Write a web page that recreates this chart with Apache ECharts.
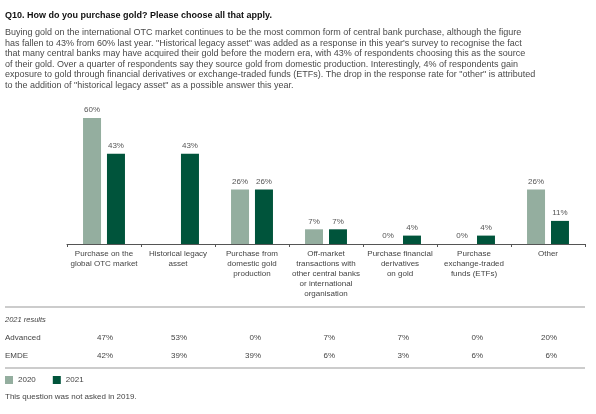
<!DOCTYPE html>
<html>
<head>
<meta charset="utf-8">
<script src="https://cdn.jsdelivr.net/npm/echarts@6/dist/echarts.min.js"></script>
<style>
  html, body { margin: 0; padding: 0; background: #fff; }
  #main { width: 596px; height: 414px; }
</style>
</head>
<body>
<div id="main"></div>
<script>
// chart data
var categories = [
    'Purchase on the\nglobal OTC market',
    'Historical legacy\nasset',
    'Purchase from\ndomestic gold\nproduction',
    'Off-market\ntransactions with\nother central banks\nor international\norganisation',
    'Purchase financial\nderivatives\non gold',
    'Purchase\nexchange-traded\nfunds (ETFs)',
    'Other'
];
var years = ['2020', '2021'];
var values2020 = [60, null, 26, 7, 0, 0, 26];
var values2021 = [43, 43, 26, 7, 4, 4, 11];
var advanced2021 = [47, 53, 0, 7, 7, 0, 20];
var emde2021 = [42, 39, 39, 6, 3, 6, 6];

var titleText = 'Q10. How do you purchase gold? Please choose all that apply.';
var bodyLines = [
    'Buying gold on the international OTC market continues to be the most common form of central bank purchase, although the figure',
    'has fallen to 43% from 60% last year. "Historical legacy asset" was added as a response in this year\'s survey to recognise the fact',
    'that many central banks may have acquired their gold before the modern era, with 43% of respondents choosing this as the source',
    'of their gold. Over a quarter of respondents say they source gold from domestic production. Interestingly, 4% of respondents gain',
    'exposure to gold through financial derivatives or exchange-traded funds (ETFs). The drop in the response rate for "other" is attributed',
    'to the addition of "historical legacy asset" as a possible answer this year.'
];
var noteText = 'This question was not asked in 2019.';

var FONT = '"Liberation Sans", Arial, sans-serif';
var green = '#00543b';
var sage = '#94ae9f';

var dom = document.getElementById('main');
var myChart = echarts.init(dom);

var barLabel = {
    show: true,
    position: 'top',
    distance: 4,
    fontSize: 8,
    color: '#555',
    fontFamily: FONT,
    formatter: function (p) { return p.value + '%'; }
};

var option = {
    animation: false,
    textStyle: { fontFamily: FONT },
    grid: { left: 67, right: 11, top: 118, bottom: 170 },
    legend: {
        data: years,
        left: 5,
        top: 376,
        padding: 0,
        icon: 'rect',
        itemWidth: 8,
        itemHeight: 8,
        itemGap: 17,
        textStyle: { fontSize: 8, color: '#444', fontFamily: FONT }
    },
    xAxis: {
        type: 'category',
        data: categories,
        axisLine: { lineStyle: { color: '#555', width: 1 } },
        axisTick: { show: true, length: 3, lineStyle: { color: '#555' } },
        axisLabel: {
            interval: 0,
            margin: 5,
            fontSize: 8,
            lineHeight: 10,
            color: '#444',
            fontFamily: FONT,
            align: 'center'
        }
    },
    yAxis: {
        type: 'value',
        min: 0,
        max: 60,
        show: false,
        splitLine: { show: false }
    },
    series: [
        {
            name: years[0],
            type: 'bar',
            data: values2020,
            barWidth: 18,
            barGap: '33%',
            itemStyle: { color: sage },
            label: barLabel
        },
        {
            name: years[1],
            type: 'bar',
            data: values2021,
            barWidth: 18,
            itemStyle: { color: green },
            label: barLabel
        }
    ]
};
myChart.setOption(option, true);

// texts and results table, placed under the category positions
var graphics = [];
graphics.push({
    type: 'text', x: 5, y: 16,
    style: { text: titleText, fill: '#111', font: 'bold 9px ' + FONT, textVerticalAlign: 'middle' }
});
for (var i = 0; i < bodyLines.length; i++) {
    graphics.push({
        type: 'text', x: 5, y: 33 + i * 10.5,
        style: { text: bodyLines[i], fill: '#4a4a4a', font: '9px ' + FONT, textVerticalAlign: 'middle' }
    });
}
graphics.push({ type: 'line', shape: { x1: 5, y1: 307, x2: 585, y2: 307 }, style: { stroke: '#999', lineWidth: 1.2 } });
graphics.push({ type: 'line', shape: { x1: 5, y1: 368, x2: 585, y2: 368 }, style: { stroke: '#999', lineWidth: 1.2 } });
graphics.push({ type: 'text', x: 5, y: 320, style: { text: '2021 results', fill: '#444', font: 'italic 7.5px ' + FONT, textVerticalAlign: 'middle' } });
graphics.push({ type: 'text', x: 5, y: 338, style: { text: 'Advanced', fill: '#444', font: '8px ' + FONT, textVerticalAlign: 'middle' } });
graphics.push({ type: 'text', x: 5, y: 356, style: { text: 'EMDE', fill: '#444', font: '8px ' + FONT, textVerticalAlign: 'middle' } });
for (var j = 0; j < categories.length; j++) {
    var cx = myChart.convertToPixel({ xAxisIndex: 0 }, j);
    graphics.push({ type: 'text', x: cx + 9, y: 338, style: { text: advanced2021[j] + '%', fill: '#444', font: '8px ' + FONT, textAlign: 'right', textVerticalAlign: 'middle' } });
    graphics.push({ type: 'text', x: cx + 9, y: 356, style: { text: emde2021[j] + '%', fill: '#444', font: '8px ' + FONT, textAlign: 'right', textVerticalAlign: 'middle' } });
}
graphics.push({ type: 'text', x: 5, y: 397, style: { text: noteText, fill: '#444', font: '8px ' + FONT, textVerticalAlign: 'middle' } });

myChart.setOption({ graphic: graphics });
</script>
</body>
</html>
